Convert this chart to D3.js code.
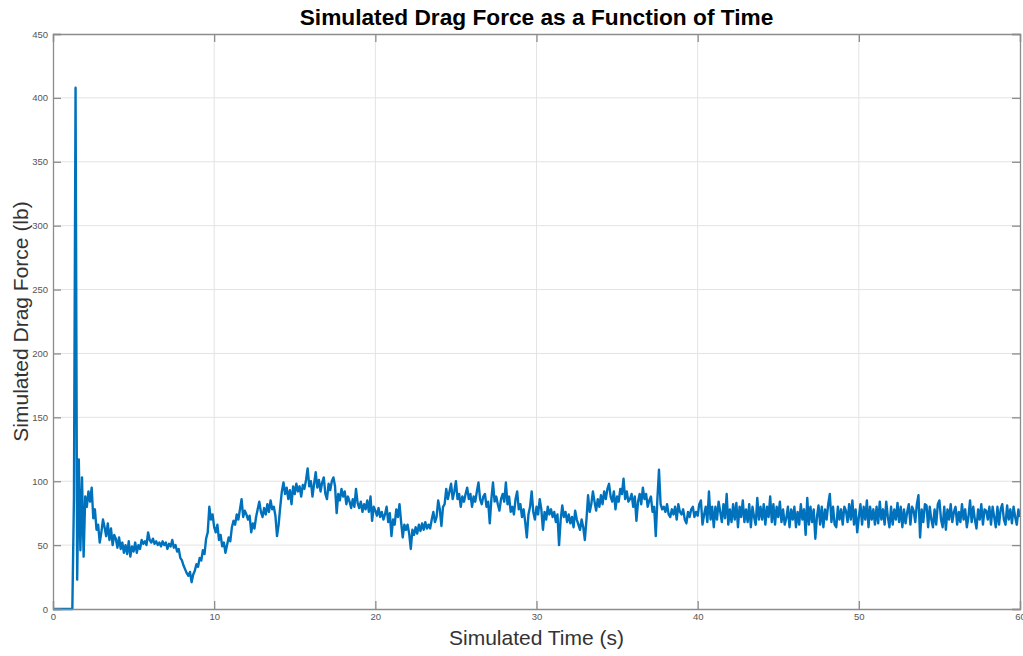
<!DOCTYPE html>
<html>
<head>
<meta charset="utf-8">
<script src="https://cdn.jsdelivr.net/npm/d3@7"></script>
<style>
  body { margin: 0; background: #fff; }
  svg { display: block; font-family: "Liberation Sans", Arial, sans-serif; }
</style>
</head>
<body>
<div id="chart"></div>
<script>
// sample spacing of the drag force record, seconds
const timeStep = 0.1;

// drag force (lb), one value every 0.1 s, per 10 s block
const drag0to10 = [
    0, 0, 0, 0, 0, 0, 0, 0, 0, 0,
    0, 0, 0, 87, 408, 23, 117, 46, 103, 41,
    88, 80, 92, 84, 95, 71, 78, 62, 66, 52,
    60, 70, 64, 57, 67, 54, 63, 50, 58, 55,
    48, 56, 47, 52, 44, 50, 43, 53, 41, 49,
    45, 52, 44, 50, 47, 54, 51, 53, 50, 60,
    54, 52, 55, 51, 53, 50, 52, 49, 53, 50,
    52, 47, 51, 49, 54, 48, 50, 45, 47, 40,
    38, 34, 31, 28, 26, 29, 21, 27, 30, 35,
    33, 40, 38, 46, 43, 55, 60, 80, 70, 74
];
const drag10to20 = [
    64, 60, 66, 54, 58, 49, 52, 44, 50, 56,
    53, 64, 69, 66, 74, 70, 78, 86, 72, 77,
    74, 70, 73, 60, 67, 63, 72, 78, 84, 76,
    72, 79, 74, 82, 76, 85, 78, 80, 73, 57,
    66, 80, 92, 99, 90, 95, 86, 93, 82, 96,
    90, 98, 92, 96, 88, 97, 94, 101, 110, 96,
    100, 88, 98, 107, 95, 101, 92, 99, 103, 90,
    86, 98, 93, 100, 103, 96, 75, 90, 85, 94,
    88, 92, 82, 88, 84, 79, 86, 80, 94, 83,
    79, 84, 76, 82, 78, 85, 76, 88, 69, 80
];
const drag20to30 = [
    77, 73, 79, 72, 76, 70, 74, 80, 68, 75,
    57, 70, 66, 78, 72, 82, 68, 56, 66, 62,
    66, 59, 47, 62, 58, 64, 59, 66, 61, 67,
    62, 68, 63, 66, 63, 70, 76, 68, 72, 85,
    78, 65, 80, 82, 94, 86, 92, 98, 86, 92,
    100, 86, 90, 80, 88, 84, 90, 95, 86, 90,
    80, 88, 84, 92, 99, 86, 82, 88, 90, 80,
    84, 67, 86, 99, 84, 88, 82, 77, 86, 90,
    84, 99, 82, 88, 76, 80, 74, 86, 92, 78,
    82, 72, 78, 68, 56, 74, 80, 92, 76, 70
];
const drag30to40 = [
    80, 74, 86, 78, 62, 76, 70, 80, 74, 78,
    72, 76, 68, 74, 50, 70, 81, 72, 76, 68,
    74, 67, 72, 64, 77, 70, 66, 62, 70, 64,
    54, 70, 89, 76, 82, 92, 84, 77, 86, 80,
    89, 82, 92, 86, 94, 98, 88, 84, 92, 78,
    88, 84, 94, 90, 102, 86, 92, 84, 86, 90,
    80, 88, 69, 84, 90, 82, 95, 86, 90, 80,
    85, 88, 76, 80, 57, 86, 109, 82, 78, 80,
    76, 82, 74, 72, 78, 74, 80, 70, 82, 76,
    74, 78, 70, 67, 76, 72, 78, 80, 72, 76
];
const drag40to50 = [
    73, 82, 85, 66, 74, 80, 68, 92, 70, 80,
    64, 80, 70, 84, 76, 68, 82, 71, 90, 66,
    78, 68, 82, 70, 83, 64, 80, 72, 85, 68,
    78, 68, 82, 64, 80, 72, 66, 87, 70, 80,
    70, 82, 66, 80, 72, 88, 68, 82, 66, 80,
    72, 84, 68, 78, 66, 71, 80, 64, 78, 70,
    80, 64, 76, 66, 82, 70, 78, 58, 87, 66,
    80, 68, 78, 55, 72, 81, 66, 80, 64, 78,
    70, 82, 90, 68, 80, 66, 64, 80, 70, 78,
    66, 80, 77, 68, 82, 70, 85, 66, 78, 60
];
const drag50to60 = [
    72, 82, 66, 80, 70, 85, 64, 80, 70, 78,
    66, 80, 67, 84, 70, 78, 66, 84, 72, 64,
    80, 66, 78, 70, 83, 68, 80, 64, 78, 67,
    76, 82, 66, 80, 77, 68, 82, 89, 56, 78,
    68, 82, 81, 64, 80, 70, 64, 78, 66, 82,
    85, 70, 64, 80, 62, 78, 70, 82, 68, 76,
    80, 66, 76, 68, 82, 70, 78, 64, 72, 85,
    68, 80, 70, 63, 78, 70, 82, 66, 78, 77,
    70, 80, 66, 80, 72, 64, 80, 66, 78, 82,
    70, 66, 81, 70, 78, 67, 80, 72, 66, 78,
    72
];

const xTicks = [0, 10, 20, 30, 40, 50, 60];
const yTicks = [0, 50, 100, 150, 200, 250, 300, 350, 400, 450];

const titleText = "Simulated Drag Force as a Function of Time";
const xLabel = "Simulated Time (s)";
const yLabel = "Simulated Drag Force (lb)";

const width = 1023, height = 656;
const margin = { top: 34, right: 3, bottom: 47, left: 53 };
const innerW = width - margin.left - margin.right;
const innerH = height - margin.top - margin.bottom;

const force = [].concat(drag0to10, drag10to20, drag20to30, drag30to40, drag40to50, drag50to60);
const data = force.map((v, i) => ({ t: +(i * timeStep).toFixed(2), f: v }));

const svg = d3.select("#chart")
    .append("svg")
    .attr("width", width)
    .attr("height", height);

const g = svg.append("g")
    .attr("transform", `translate(${margin.left},${margin.top})`);

const x = d3.scaleLinear().domain([0, 60]).range([0, innerW]);
const y = d3.scaleLinear().domain([0, 450]).range([innerH, 0]);

// grid
g.append("g")
    .selectAll("line")
    .data(xTicks.slice(1, -1))
    .join("line")
    .attr("x1", d => x(d)).attr("x2", d => x(d))
    .attr("y1", 0).attr("y2", innerH)
    .attr("stroke", "#e3e3e3");

g.append("g")
    .selectAll("line")
    .data(yTicks.slice(1, -1))
    .join("line")
    .attr("x1", 0).attr("x2", innerW)
    .attr("y1", d => y(d)).attr("y2", d => y(d))
    .attr("stroke", "#e3e3e3");

// line
const line = d3.line()
    .x(d => x(d.t))
    .y(d => y(d.f));

g.append("path")
    .datum(data)
    .attr("d", line)
    .attr("fill", "none")
    .attr("stroke", "#0072BD")
    .attr("stroke-width", 2.4)
    .attr("stroke-linejoin", "round");

// axes, ticks pointing inward like MATLAB
const axisColor = "#8c8c8c";
const tickLen = 8;

const xAxis = g.append("g")
    .attr("transform", `translate(0,${innerH})`)
    .call(d3.axisBottom(x).tickValues(xTicks).tickSize(-tickLen).tickPadding(4));
const xTop = g.append("g")
    .call(d3.axisTop(x).tickValues(xTicks).tickSize(-tickLen).tickFormat(""));
const yAxis = g.append("g")
    .call(d3.axisLeft(y).tickValues(yTicks).tickSize(-tickLen).tickPadding(5));
const yRight = g.append("g")
    .attr("transform", `translate(${innerW},0)`)
    .call(d3.axisRight(y).tickValues(yTicks).tickSize(-tickLen).tickFormat(""));

[xAxis, xTop, yAxis, yRight].forEach(a => {
    a.select(".domain").attr("stroke", axisColor).attr("stroke-width", 1.3);
    a.selectAll(".tick line").attr("stroke", axisColor).attr("stroke-width", 1.3);
    a.selectAll(".tick text")
        .attr("fill", "#555")
        .style("font-size", "9.5px")
        .style("font-family", "Liberation Sans, Arial, sans-serif");
});

// labels
svg.append("text")
    .attr("x", margin.left + innerW / 2)
    .attr("y", 25)
    .attr("text-anchor", "middle")
    .style("font-size", "22.7px")
    .style("font-weight", "bold")
    .attr("fill", "#000")
    .text(titleText);

svg.append("text")
    .attr("x", margin.left + innerW / 2)
    .attr("y", 645)
    .attr("text-anchor", "middle")
    .style("font-size", "21px")
    .attr("fill", "#333")
    .text(xLabel);

svg.append("text")
    .attr("transform", `translate(28,${margin.top + innerH / 2}) rotate(-90)`)
    .attr("text-anchor", "middle")
    .style("font-size", "21px")
    .attr("fill", "#333")
    .text(yLabel);
</script>
</body>
</html>
